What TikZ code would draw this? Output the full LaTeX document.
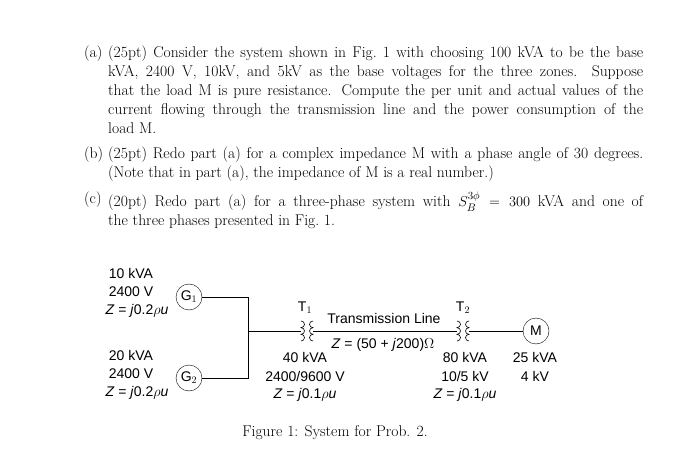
\documentclass[tikz,border=0pt]{standalone}
\usepackage{fontspec}
\newfontfamily\diagfont{Liberation Sans}
\usetikzlibrary{positioning}
\newcommand{\zi}[1]{\textit{#1}}
\tikzset{
  txt/.style={text width=535pt,align=justify,anchor=north west,inner sep=0pt,font=\fontsize{15.6}{19}\selectfont},
  lbl/.style={anchor=north west,inner sep=0pt,font=\fontsize{15.6}{19}\selectfont},
  dia/.style={font=\diagfont\fontsize{14}{19}\selectfont,inner sep=0pt},
  mach/.style={circle,draw,minimum size=26pt,inner sep=0pt,font=\diagfont\fontsize{14}{15}\selectfont},
  wire/.style={line width=0.6pt},
  coil/.pic={
    \draw[wire] (-6,-10) arc (-90:90:3.5 and 3.33) arc (-90:90:3.5 and 3.33) arc (-90:90:3.5 and 3.33);
    \draw[wire] (6,-10) arc (270:90:3.5 and 3.33) arc (270:90:3.5 and 3.33) arc (270:90:3.5 and 3.33);
    \coordinate (-l) at (-6,0); \coordinate (-r) at (6,0);
  }
}
\begin{document}
\begin{tikzpicture}[x=1pt,y=-1pt]
\useasboundingbox (0,0) rectangle (675,449);
% problem text
\node[lbl] (la) at (84,46) {(a)};
\node[txt] (pa) at (108,46) {(25pt) Consider the system shown in Fig.~1 with choosing 100 kVA to be the base\linebreak
kVA, 2400 V, 10kV, and 5kV as the base voltages for the three zones. Suppose\linebreak
that the load M is pure resistance. Compute the per unit and actual values of the\linebreak
current flowing through the transmission line and the power consumption of the\linebreak
load M.};
\node[lbl] (lb) at (84,147) {(b)};
\node[txt] (pb) at (108,147) {(25pt) Redo part (a) for a complex impedance M with a phase angle of 30 degrees.\linebreak
(Note that in part (a), the impedance of M is a real number.)};
\node[lbl] (lc) at (84,192) {(c)};
\node[txt] (pc) at (108,192) {(20pt) Redo part (a) for a three-phase system with $S_B^{3\phi}=300$ kVA and one of\linebreak
the three phases presented in Fig.~1.};
% one-line diagram
\node[mach] (G1) at (189,297) {G$_1$};
\node[mach] (G2) at (189,378) {G$_2$};
\node[mach] (M) at (536,331) {M};
\coordinate (bus1) at (248,297);
\coordinate (bus2) at (248,378);
\coordinate (bus) at (248,331);
\pic (T1) at (307,331) {coil};
\pic (T2) at (463,331) {coil};
\draw[wire] (G1) -- (bus1) -- (bus2) -- (G2);
\draw[wire] (bus) -- (T1-l);
\draw[wire] (T1-r) -- (T2-l);
\draw[wire] (T2-r) -- (M);
% labels
\node[dia] (g1a) at (131,273) {10 kVA};
\node[dia] (g1b) at (131,292) {2400 V};
\node[dia] (g1c) at (137,311) {\zi{Z} = \zi{j}0.2\zi{$\rho$u}};
\node[dia] (g2a) at (131,355) {20 kVA};
\node[dia] (g2b) at (131,374) {2400 V};
\node[dia] (g2c) at (137,393) {\zi{Z} = \zi{j}0.2\zi{$\rho$u}};
\node[dia] (t1n) at (305,308) {T$_1$};
\node[dia] (t1a) at (305,357) {40 kVA};
\node[dia] (t1b) at (305,376) {2400/9600 V};
\node[dia] (t1c) at (305,395) {\zi{Z} = \zi{j}0.1\zi{$\rho$u}};
\node[dia] (tl) at (384,318) {Transmission Line};
\node[dia] (tlz) at (383,345) {\zi{Z} = (50 + \zi{j}200)$\Omega$};
\node[dia] (t2n) at (463,308) {T$_2$};
\node[dia] (t2a) at (465,357) {80 kVA};
\node[dia] (t2b) at (465,376) {10/5 kV};
\node[dia] (t2c) at (465,395) {\zi{Z} = \zi{j}0.1\zi{$\rho$u}};
\node[dia] (ma) at (535,357) {25 kVA};
\node[dia] (mb) at (535,376) {4 kV};
\node[inner sep=0pt,font=\fontsize{15.6}{18}\selectfont] (cap) at (335,433) {Figure 1: System for Prob. 2.};
\end{tikzpicture}
\end{document}
